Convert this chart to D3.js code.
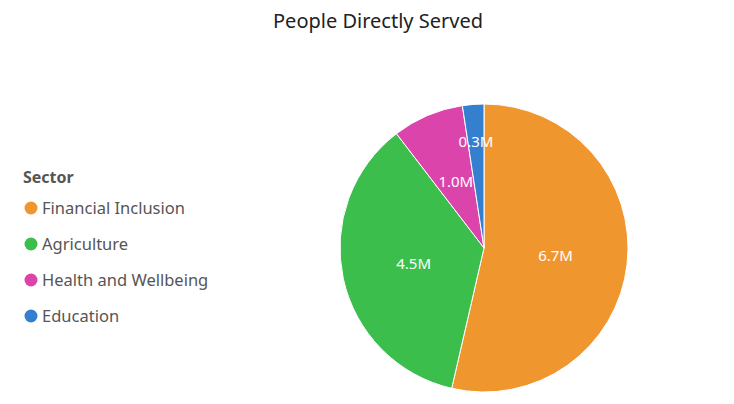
<!DOCTYPE html>
<html><head><meta charset="utf-8">
<script src="https://cdn.jsdelivr.net/npm/d3@7"></script>
<style>body{margin:0;background:#fff}</style></head>
<body><svg id="c" width="734" height="404"></svg>
<script>
const sectors = ["Financial Inclusion","Agriculture","Health and Wellbeing","Education"];
const values = [6.7,4.5,1.0,0.3];
const labels = ["6.7M","4.5M","1.0M","0.3M"];
const colors = ["#F0962E","#3BBE4C","#DB45AB","#3480CF"];

const svg = d3.select("#c");
const font = "'Noto Sans', 'Open Sans', sans-serif";
svg.append("text").attr("x",378).attr("y",28).attr("text-anchor","middle")
  .attr("font-family",font).attr("font-size",20).attr("fill","#222").text("People Directly Served");

const cx=484, cy=248, r=144;
const pie = d3.pie().sort(null).value(d=>d)(values);
const arc = d3.arc().innerRadius(0).outerRadius(r);
const g = svg.append("g").attr("transform",`translate(${cx},${cy})`);
g.selectAll("path").data(pie).join("path").attr("d",arc)
  .attr("fill",(d,i)=>colors[i]).attr("stroke","#fff").attr("stroke-width",1);
g.selectAll("text").data(pie).join("text")
  .attr("transform",d=>{
    const a=(d.startAngle+d.endAngle)/2;
    const lr = (d.endAngle-d.startAngle)<0.3 ? 107 : 72;
    return `translate(${Math.sin(a)*lr},${-Math.cos(a)*lr})`;
  })
  .attr("text-anchor","middle").attr("dy","0.35em")
  .attr("font-family",font).attr("font-size",15).attr("fill","#fff")
  .text((d,i)=>labels[i]);

const lg = svg.append("g");
lg.append("text").attr("x",23).attr("y",183).attr("font-family",font).attr("font-weight","bold")
  .attr("font-size",16).attr("fill","#555").text("Sector");
const items = lg.selectAll("g.it").data(sectors).join("g").attr("class","it")
  .attr("transform",(d,i)=>`translate(0,${208+i*36})`);
items.append("circle").attr("cx",31).attr("cy",0).attr("r",6.5).attr("fill",(d,i)=>colors[i]);
items.append("text").attr("x",42).attr("y",0).attr("dy","0.35em").attr("font-family",font)
  .attr("font-size",16.5).attr("fill","#555").text(d=>d);
</script></body></html>
